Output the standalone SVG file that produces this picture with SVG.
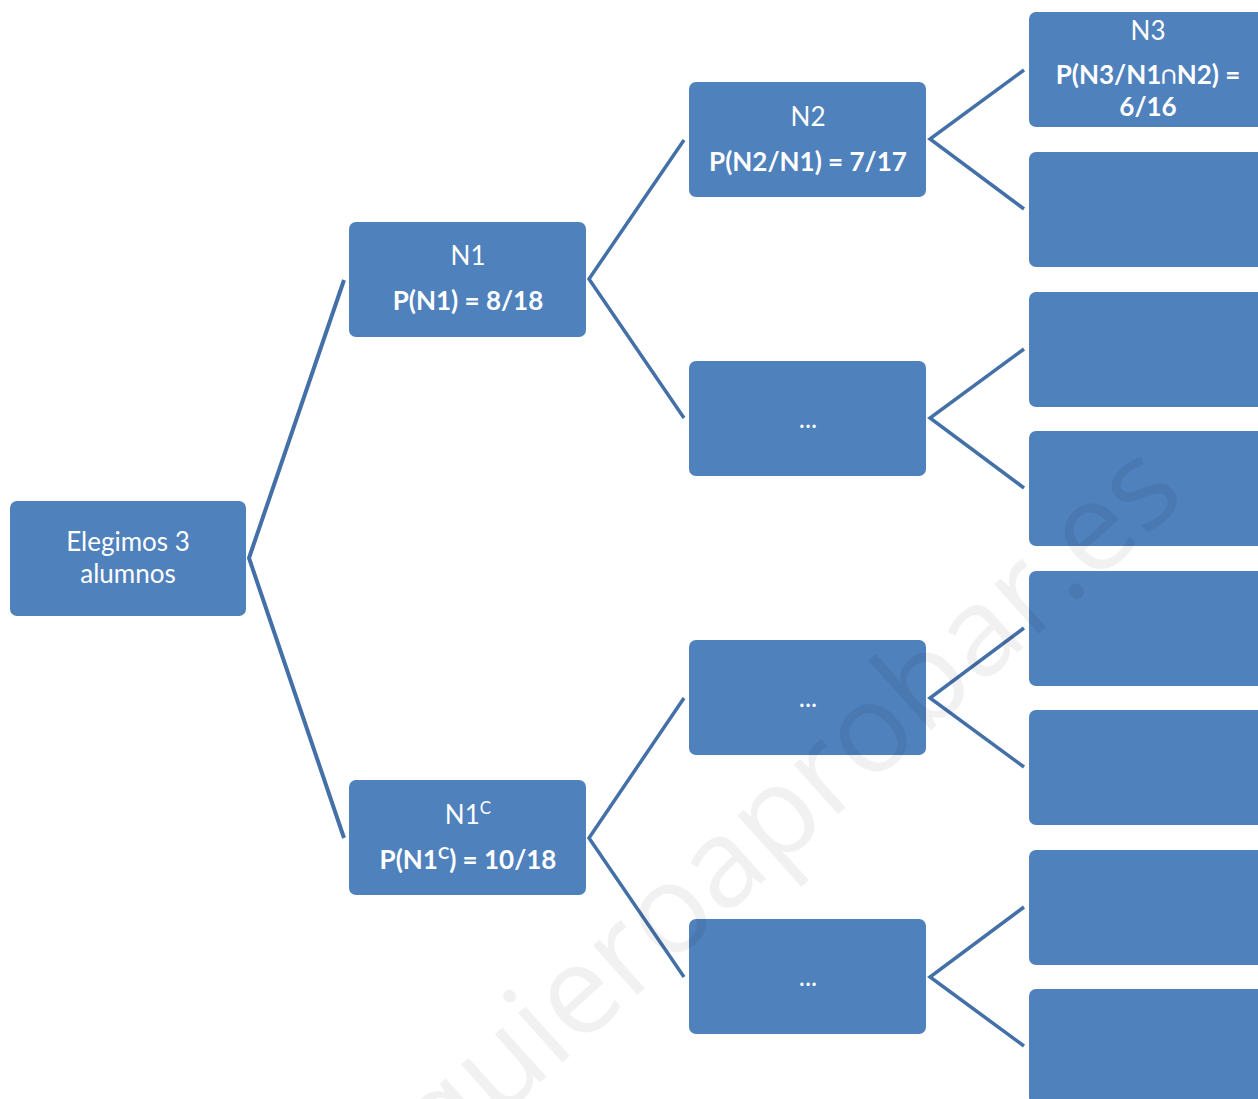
<svg xmlns="http://www.w3.org/2000/svg" width="1258" height="1099" viewBox="0 0 1258 1099">
  <style>
    .box { fill: #4F81BD; }
    .t { fill: #ffffff; font-family: Lato, "Open Sans", "Liberation Sans", sans-serif; font-size: 26px; text-anchor: middle; }
    .b { font-weight: bold; }
    .c1 { fill: none; stroke: #4470A8; stroke-width: 4; stroke-linejoin: miter; }
    .c2 { fill: none; stroke: #4470A8; stroke-width: 3.5; stroke-linejoin: miter; }
    .wm { fill: #000000; fill-opacity: 0.055; font-family: "Open Sans", "Noto Sans", sans-serif; font-size: 124px; text-anchor: middle; }
  </style>
  <rect width="1258" height="1099" fill="#ffffff"/>

  <g id="connectors">
    <polyline class="c1" points="344,280 249,558 344,838"/>
    <polyline class="c2" points="684,140 589,279 684,418"/>
    <polyline class="c2" points="684,698 589,838 684,977"/>
    <polyline class="c2" points="1024,70 930,139 1024,209"/>
    <polyline class="c2" points="1024,349 930,418 1024,488"/>
    <polyline class="c2" points="1024,628 930,698 1024,767"/>
    <polyline class="c2" points="1024,907 930,977 1024,1046"/>
  </g>

  <g id="root">
    <rect class="box" x="10" y="501" width="236" height="115" rx="7"/>
    <text class="t" x="128" y="551">Elegimos 3</text>
    <text class="t" x="128" y="583">alumnos</text>
  </g>

  <g id="n1">
    <rect class="box" x="349" y="222" width="237" height="115" rx="7"/>
    <text class="t" x="468" y="265">N1</text>
    <text class="t b" x="468" y="310">P(N1) = 8/18</text>
  </g>

  <g id="n1c">
    <rect class="box" x="349" y="780" width="237" height="115" rx="7"/>
    <text class="t" x="468" y="824">N1<tspan font-size="17" dy="-10">C</tspan></text>
    <text class="t b" x="468" y="869">P(N1<tspan font-size="17" dy="-10">C</tspan><tspan dy="10">) = 10/18</tspan></text>
  </g>

  <g id="n2">
    <rect class="box" x="689" y="82" width="237" height="115" rx="7"/>
    <text class="t" x="808" y="126">N2</text>
    <text class="t b" x="808" y="171">P(N2/N1) = 7/17</text>
  </g>

  <g id="n2c">
    <rect class="box" x="689" y="361" width="237" height="115" rx="7"/>
    <text class="t" x="808" y="428">...</text>
  </g>

  <g id="n1c-a">
    <rect class="box" x="689" y="640" width="237" height="115" rx="7"/>
    <text class="t" x="808" y="707">...</text>
  </g>

  <g id="n1c-b">
    <rect class="box" x="689" y="919" width="237" height="115" rx="7"/>
    <text class="t" x="808" y="986">...</text>
  </g>

  <g id="n3">
    <rect class="box" x="1029" y="12" width="237" height="115" rx="7"/>
    <text class="t" x="1148" y="40">N3</text>
    <text class="t b" x="1148" y="84">P(N3/N1∩N2) =</text>
    <text class="t b" x="1148" y="116">6/16</text>
  </g>
  <g id="l3-2"><rect class="box" x="1029" y="152" width="237" height="115" rx="7"/></g>
  <g id="l3-3"><rect class="box" x="1029" y="292" width="237" height="115" rx="7"/></g>
  <g id="l3-4"><rect class="box" x="1029" y="431" width="237" height="115" rx="7"/></g>
  <g id="l3-5"><rect class="box" x="1029" y="571" width="237" height="115" rx="7"/></g>
  <g id="l3-6"><rect class="box" x="1029" y="710" width="237" height="115" rx="7"/></g>
  <g id="l3-7"><rect class="box" x="1029" y="850" width="237" height="115" rx="7"/></g>
  <g id="l3-8"><rect class="box" x="1029" y="989" width="237" height="115" rx="7"/></g>

  <text class="wm" transform="translate(815,835) rotate(-42)">quieroaprobar.es</text>
</svg>
